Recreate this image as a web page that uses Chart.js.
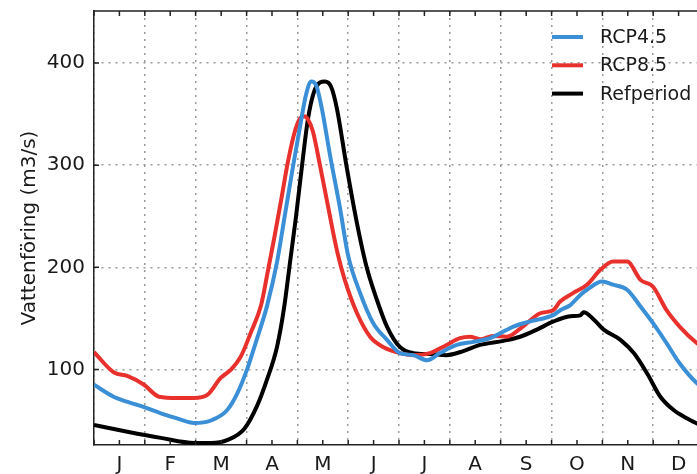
<!DOCTYPE html>
<html>
<head>
<meta charset="utf-8">
<script src="https://cdn.jsdelivr.net/npm/chart.js@4"></script>
<style>
    html, body { margin: 0; padding: 0; overflow: hidden; background: #fff; }
    #wrap { width: 720px; height: 480px; }
</style>
</head>
<body>
<div id="wrap"><canvas id="chart" width="720" height="480"></canvas></div>
<script>
// months on the x axis, day of year as unit
const monthLabels = ["J", "F", "M", "A", "M", "J", "J", "A", "S", "O", "N", "D"]
const monthEdges = [0, 30.4, 60.8, 91.3, 121.7, 152.1, 182.5, 212.9, 243.3, 273.8, 304.2, 334.6, 365]
const monthMids = [15.2, 45.6, 76.1, 106.5, 136.9, 167.3, 197.7, 228.1, 258.6, 289, 319.4, 349.8]
const yTicks = [100, 200, 300, 400]

// RCP4.5
const rcp45Days = [0, 12, 19.7, 30, 40, 49.7, 60, 70, 79.6, 85.6, 91.6, 97.5, 103.5, 109.5, 114.3, 119, 123.3, 127, 130, 133, 136.4, 141.2, 147.2, 152, 159.2, 167, 175.3, 183, 191, 199.3, 207, 217, 227, 237, 251, 261, 275, 279, 285, 291, 295, 304, 310.6, 319, 327, 334.5, 342.6, 350.4, 360.8, 365]
const rcp45Flow = [85, 73, 68.4, 63, 57, 52, 47.5, 50, 60, 76, 100, 130, 162, 205, 252, 298, 338, 370, 382, 378, 355, 310, 258, 212, 175, 145.5, 129, 116, 114, 109, 116, 124, 127, 130.6, 142, 147, 153.4, 158, 163, 173, 178, 186, 183, 178, 161.6, 145.3, 125.7, 106, 86.5, 82]

// RCP8.5
const rcp85Days = [0, 12, 19.9, 29.9, 38.9, 49.9, 59.8, 67.8, 75.8, 81.8, 87.8, 93.8, 100, 104, 108, 112, 116, 120, 123, 125.7, 128, 131, 135.2, 139.4, 143, 146, 150, 157.4, 165.2, 173, 183, 191, 201, 211, 219, 225, 231, 238.8, 247, 256.6, 267, 274.7, 278.9, 286.6, 295, 303, 310.6, 319, 327, 334.5, 342.6, 350.4, 360.8, 365]
const rcp85Flow = [117, 97, 93.6, 85, 73.3, 72, 72, 75, 91.7, 99.5, 112.5, 136, 163, 196, 230, 266, 303, 332, 345, 348, 345, 333, 300, 265, 235, 212, 188, 155, 132, 122, 116, 114, 116, 124, 130.6, 132, 129.6, 132.8, 132, 142, 155, 158, 166.5, 174.7, 183, 197.5, 205.7, 205.7, 187.7, 181, 158, 142, 125.7, 121]

// Refperiod
const refDays = [0, 20, 40, 60, 70, 80, 90, 97.5, 103.5, 109.5, 113.7, 117.3, 120.9, 124.5, 128, 131.7, 135.2, 138.2, 141.8, 145.4, 151, 157, 163, 169.3, 175.3, 183, 191, 201, 211, 221, 231, 245, 255, 265, 275, 285, 291, 293, 299, 305, 315, 323, 331, 339, 347, 355, 361, 365]
const refFlow = [45.6, 39, 33, 28, 28, 31, 42, 64, 90, 122, 160, 205, 250, 300, 345, 372, 381, 382, 377, 355, 300, 246, 201, 168, 142, 122, 116, 115, 114, 118, 124, 128, 132, 139, 147, 152, 153, 156, 149, 139, 129, 116, 96, 73, 60, 52, 47, 45]

const xTicks = monthEdges.concat(monthMids).sort((a, b) => a - b)
const FONT = "DejaVu Sans"

function pts(days, flow) {
    return days.map((d, i) => ({ x: d, y: flow[i] }))
}

// inward tick marks and the top frame line, like matplotlib
const frameTicks = {
    id: "frameTicks",
    afterDatasetsDraw(chart) {
        const { ctx, chartArea: a, scales: { x, y } } = chart
        ctx.save()
        ctx.strokeStyle = "#222"
        ctx.lineWidth = 1.5
        ctx.beginPath()
        ctx.moveTo(a.left, a.top)
        ctx.lineTo(a.right, a.top)
        xTicks.forEach(v => {
            const px = x.getPixelForValue(v)
            ctx.moveTo(px, a.bottom)
            ctx.lineTo(px, a.bottom - 5)
            ctx.moveTo(px, a.top)
            ctx.lineTo(px, a.top + 5)
        })
        yTicks.forEach(v => {
            const py = y.getPixelForValue(v)
            ctx.moveTo(a.left, py)
            ctx.lineTo(a.left + 5, py)
        })
        ctx.stroke()
        ctx.restore()
    }
}

// legend drawn inside the plot, top right
const innerLegend = {
    id: "innerLegend",
    afterDraw(chart) {
        const { ctx, chartArea: a } = chart
        ctx.save()
        ctx.font = "19px " + FONT
        ctx.textBaseline = "middle"
        ctx.fillStyle = "#1a1a1a"
        chart.data.datasets.forEach((ds, i) => {
            const yy = a.top + 26 + i * 28.3
            ctx.strokeStyle = ds.borderColor
            ctx.lineWidth = 4
            ctx.beginPath()
            ctx.moveTo(a.right - 152, yy)
            ctx.lineTo(a.right - 121, yy)
            ctx.stroke()
            ctx.fillText(ds.label, a.right - 104, yy + 1)
        })
        ctx.restore()
    }
}

function noPad(s) {
    s.paddingTop = 0
    s.paddingBottom = 0
    s.paddingLeft = 0
    s.paddingRight = 0
}

window.onload = () => {
    new Chart(document.getElementById("chart"), {
        type: "line",
        data: {
            datasets: [
                { label: "RCP4.5", data: pts(rcp45Days, rcp45Flow), borderColor: "#3a8fd6" },
                { label: "RCP8.5", data: pts(rcp85Days, rcp85Flow), borderColor: "#e8302c" },
                { label: "Refperiod", data: pts(refDays, refFlow), borderColor: "#000000" }
            ]
        },
        options: {
            responsive: false,
            animation: false,
            devicePixelRatio: 1,
            layout: { padding: { top: 11, right: 16, left: 0, bottom: 0 } },
            elements: {
                point: { radius: 0 },
                line: { borderWidth: 4, cubicInterpolationMode: "monotone" }
            },
            plugins: {
                legend: { display: false },
                tooltip: { enabled: false }
            },
            scales: {
                x: {
                    type: "linear",
                    min: 0,
                    max: 365,
                    afterBuildTicks: s => { s.ticks = xTicks.map(v => ({ value: v })) },
                    afterFit: s => { s.height = 35; noPad(s) },
                    grid: {
                        drawTicks: false,
                        lineWidth: 1.5,
                        color: c => monthEdges.includes(c.tick && c.tick.value) ? "#9a9a9a" : "rgba(0,0,0,0)"
                    },
                    border: { display: true, color: "#222", width: 1.5, dash: [2, 5] },
                    ticks: {
                        autoSkip: false,
                        maxRotation: 0,
                        minRotation: 0,
                        padding: 8,
                        color: "#1a1a1a",
                        font: { family: FONT, size: 20 },
                        callback: v => {
                            const i = monthMids.indexOf(v)
                            return i >= 0 ? monthLabels[i] : ""
                        }
                    }
                },
                y: {
                    min: 26,
                    max: 451,
                    afterBuildTicks: s => { s.ticks = yTicks.map(v => ({ value: v })) },
                    afterFit: s => { s.width = 94; noPad(s) },
                    grid: { drawTicks: false, lineWidth: 1.5, color: "#9a9a9a" },
                    border: { display: true, color: "#222", width: 1.5, dash: [2, 5] },
                    ticks: {
                        padding: 9,
                        color: "#1a1a1a",
                        font: { family: FONT, size: 20 }
                    },
                    title: {
                        display: true,
                        text: "Vattenföring (m3/s)",
                        color: "#1a1a1a",
                        font: { family: FONT, size: 20 },
                        padding: { top: 18, bottom: 0 }
                    }
                }
            }
        },
        plugins: [frameTicks, innerLegend]
    })
}
</script>
</body>
</html>
